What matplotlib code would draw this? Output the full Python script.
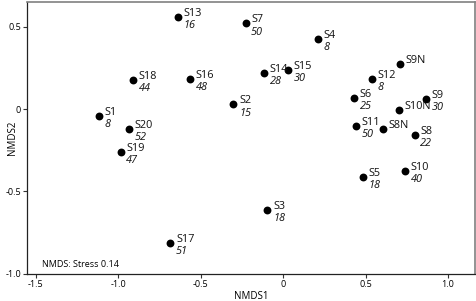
import matplotlib
matplotlib.use("Agg")
import matplotlib.pyplot as plt

plt.rcParams["font.family"] = ["Open Sans", "DejaVu Sans"]

# --- Data ---
sites = ["S13", "S18", "S16", "S1", "S20", "S19", "S17", "S7", "S4", "S14",
         "S15", "S2", "S9N", "S12", "S6", "S9", "S10N", "S11", "S8N", "S8",
         "S5", "S10", "S3"]
nmds1 = [-0.636, -0.909, -0.565, -1.115, -0.933, -0.986, -0.683, -0.228, 0.212, -0.115,
         0.030, -0.301, 0.707, 0.537, 0.430, 0.867, 0.705, 0.442, 0.606, 0.798,
         0.483, 0.739, -0.095]
nmds2 = [0.559, 0.174, 0.182, -0.044, -0.119, -0.259, -0.814, 0.519, 0.424, 0.220,
         0.236, 0.028, 0.273, 0.180, 0.065, 0.061, -0.004, -0.105, -0.121, -0.158,
         -0.414, -0.376, -0.610]
counts = ["16", "44", "48", "8", "52", "47", "51", "50", "8", "28",
          "30", "15", "", "8", "25", "30", "", "50", "", "22",
          "18", "40", "18"]

fig, ax = plt.subplots(figsize=(4.77, 3.01), dpi=100)
fig.subplots_adjust(left=0.057, right=0.996, bottom=0.09, top=0.995)

ax.scatter(nmds1, nmds2, s=32, color="black", zorder=3, linewidths=0)

for name, x, y, n in zip(sites, nmds1, nmds2, counts):
    ax.annotate(name, (x, y), xytext=(4, 2.5), textcoords="offset points",
                fontsize=7.8, va="center", ha="left", color="#111111")
    if n:
        ax.annotate(n, (x, y), xytext=(4, -6.2), textcoords="offset points",
                    fontsize=7.8, va="center", ha="left", style="italic",
                    color="#111111")

ax.text(-1.46, -0.945, "NMDS: Stress 0.14", fontsize=6.5, va="center", ha="left")

ax.set_xlim(-1.552, 1.164)
ax.set_ylim(-1.0, 0.652)
ax.set_xticks([-1.5, -1.0, -0.5, 0, 0.5, 1.0])
ax.set_xticklabels(["-1.5", "-1.0", "-0.5", "0", "0.5", "1.0"])
ax.set_yticks([-1.0, -0.5, 0, 0.5])
ax.set_yticklabels(["-1.0", "-0.5", "0", "0.5"])
ax.tick_params(labelsize=6.5, length=3, width=0.8, pad=1.5, color="#333333")

ax.set_xlabel("NMDS1", fontsize=7, labelpad=1)
ax.set_ylabel("NMDS2", fontsize=7, va="center")
ax.yaxis.set_label_coords(-0.032, 0.5)

for side in ["top", "right"]:
    ax.spines[side].set_color("#808080")
    ax.spines[side].set_linewidth(1.2)
for side in ["left", "bottom"]:
    ax.spines[side].set_color("#222222")
    ax.spines[side].set_linewidth(0.9)

plt.savefig("out.png", dpi=100)
